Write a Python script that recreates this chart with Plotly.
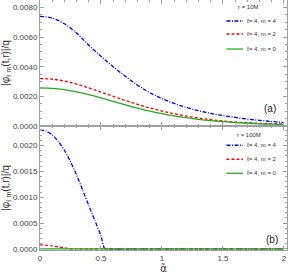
import plotly.graph_objects as go

# ---------------- data ----------------
alpha = [0.0, 0.1, 0.2, 0.3, 0.4, 0.5, 0.6, 0.7, 0.8, 0.9, 1.0,
         1.1, 1.2, 1.3, 1.4, 1.5, 1.6, 1.7, 1.8, 1.9, 2.0]

# panel (a) r = 10M
a_m4 = [0.00740, 0.00728, 0.00690, 0.00627, 0.00545, 0.00470, 0.00400, 0.00335,
        0.00275, 0.00225, 0.00185, 0.00152, 0.00125, 0.00103, 0.00085, 0.00070,
        0.00058, 0.00047, 0.00038, 0.00030, 0.00023]
a_m2 = [0.00320, 0.00316, 0.00303, 0.00283, 0.00257, 0.00229, 0.00200, 0.00172,
        0.00146, 0.00122, 0.00101, 0.00083, 0.00067, 0.00054, 0.00043, 0.00034,
        0.00027, 0.00022, 0.00018, 0.00015, 0.00013]
a_m0 = [0.00257, 0.00254, 0.00245, 0.00230, 0.00211, 0.00189, 0.00166, 0.00143,
        0.00121, 0.00101, 0.00084, 0.00069, 0.00056, 0.00045, 0.00036, 0.00029,
        0.00023, 0.00019, 0.00015, 0.00012, 0.00010]

# panel (b) r = 100M
alpha_b = [0.0, 0.05, 0.1, 0.15, 0.2, 0.25, 0.3, 0.35, 0.4, 0.45, 0.5, 0.53,
           0.6, 0.8, 1.0, 1.2, 1.4, 1.6, 1.8, 2.0]
b_m4 = [0.00230, 0.00228, 0.00221, 0.00208, 0.00191, 0.00169, 0.00143, 0.00114,
        0.00084, 0.00055, 0.00025, 0.00001, 0.0, 0.0, 0.0, 0.0, 0.0, 0.0, 0.0, 0.0]
b_m2 = [0.00008, 0.00007, 0.00006, 0.00004, 0.00002, 0.000003, 0.0, 0.0,
        0.0, 0.0, 0.0, 0.0, 0.0, 0.0, 0.0, 0.0, 0.0, 0.0, 0.0, 0.0]
b_m0 = [0.000002] * 20

labels = ["\u2113= 4, m = 4", "\u2113= 4, m = 2", "\u2113= 4, m = 0"]
colors = ["#0000FF", "#FF0000", "#22AA22"]
dashes = ["4px,1.5px,1px,1.5px", "3px,2px", "solid"]

# ---------------- figure ----------------
fig = go.Figure()
for ys, c, d, n in zip([a_m4, a_m2, a_m0], colors, dashes, labels):
    fig.add_trace(go.Scatter(x=alpha, y=ys, mode="lines", name=n, xaxis="x", yaxis="y",
                             line=dict(color=c, dash=d, width=1.3, shape="spline"),
                             showlegend=False))
for ys, c, d, n in zip([b_m4, b_m2, b_m0], colors, dashes, labels):
    fig.add_trace(go.Scatter(x=alpha_b, y=ys, mode="lines", name=n, xaxis="x2", yaxis="y2",
                             line=dict(color=c, dash=d, width=1.3, shape="spline", smoothing=0.6),
                             showlegend=False))

axcol = "#A0A0A0"
tickfont = dict(family="Liberation Sans, Arial", size=8, color="#444444")
common_x = dict(range=[0, 2.025], showline=True, linecolor=axcol, linewidth=1, mirror="ticks",
                ticks="inside", ticklen=4, tickcolor=axcol, dtick=0.5, tick0=0,
                minor=dict(dtick=0.1, ticks="inside", ticklen=2, tickcolor=axcol),
                showgrid=False, zeroline=False, tickfont=tickfont)
common_y = dict(showline=True, linecolor=axcol, linewidth=1, mirror="ticks",
                ticks="inside", ticklen=4, tickcolor=axcol, tickformat=".4f",
                showgrid=False, zeroline=False, tickfont=tickfont,
                title=dict(text="|\u03c6<sub>\u2113 m</sub>(t,r)|/q",
                           font=dict(family="Liberation Sans, Arial", size=10, color="#333333"),
                           standoff=6))

fig.update_layout(
    width=291, height=275,
    margin=dict(l=40, r=4, t=0, b=25),
    paper_bgcolor="white", plot_bgcolor="white",
    xaxis=dict(common_x, anchor="y", domain=[0, 1], showticklabels=False),
    yaxis=dict(common_y, anchor="x", domain=[0.496, 1], range=[0, 0.0085], dtick=0.002,
               minor=dict(dtick=0.0005, ticks="inside", ticklen=2, tickcolor=axcol)),
    xaxis2=dict(common_x, anchor="y2", domain=[0, 1], showticklabels=True,
                title=dict(text="\u03b1\u0303", font=dict(family="DejaVu Sans",
                                                          size=10, color="#333333"), standoff=3)),
    yaxis2=dict(common_y, anchor="x2", domain=[0, 0.496], range=[-0.00002, 0.00238], dtick=0.0005,
                minor=dict(dtick=0.0001, ticks="inside", ticklen=2, tickcolor=axcol)),
)

# legend-like annotations (text + line samples)
txtfont = dict(family="Liberation Sans, Arial", size=6, color="#333333")
def add_legend(title, ytitle, yrows):
    fig.add_annotation(x=0.845, y=ytitle, xref="paper", yref="paper", text=title,
                       showarrow=False, font=txtfont, xanchor="center", yanchor="middle")
    for yy, c, d, n in zip(yrows, colors, dashes, labels):
        fig.add_shape(type="line", xref="paper", yref="paper", x0=0.755, x1=0.822, y0=yy, y1=yy,
                      line=dict(color=c, dash=d, width=1.3))
        fig.add_annotation(x=0.828, y=yy, xref="paper", yref="paper", text=n, showarrow=False,
                           font=txtfont, xanchor="left", yanchor="middle")

add_legend("r = 10M", 0.971, [0.916, 0.864, 0.804])
add_legend("r = 100M", 0.460, [0.419, 0.363, 0.307])

panfont = dict(family="Liberation Sans, Arial", size=10, color="#222222")
fig.add_annotation(x=0.931, y=0.568, xref="paper", yref="paper", text="(a)", showarrow=False,
                   font=panfont, xanchor="center", yanchor="middle")
fig.add_annotation(x=0.939, y=0.044, xref="paper", yref="paper", text="(b)", showarrow=False,
                   font=panfont, xanchor="center", yanchor="middle")

fig.write_html("out.html", config={"displayModeBar": False},
               post_script="document.body.style.margin='0';document.body.style.overflow='hidden';")
